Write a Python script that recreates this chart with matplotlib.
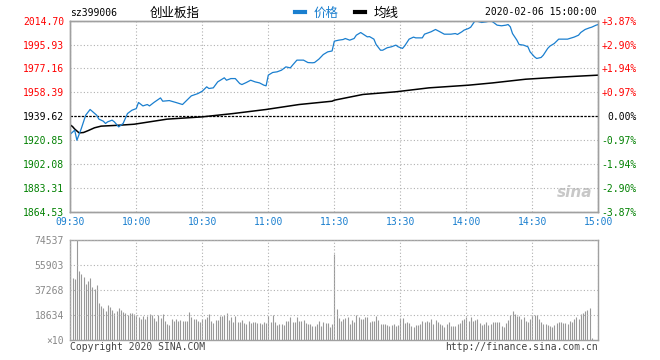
import matplotlib.pyplot as plt
import numpy as np
from matplotlib.lines import Line2D

# price (blue) - minute index from 09:30, 0..240
price_min = [0, 2, 3, 5, 7, 9, 12, 13, 15, 16, 17, 19, 20, 22, 24, 26, 28, 30, 31, 33,
             35, 36, 38, 41, 42, 45, 48, 51, 53, 55, 58, 60, 62, 63, 65, 67, 70, 71, 73, 75,
             77, 78, 80, 82, 84, 86, 88, 89, 90, 92, 94, 96, 98, 100, 101, 103, 106, 108, 110, 111,
             113, 115, 117, 119, 120, 122, 124, 125, 127, 129, 130, 132, 133, 135, 136, 138, 139, 141, 142, 144,
             146, 148, 149, 151, 152, 154, 156, 157, 160, 161, 164, 166, 168, 170, 173, 175, 176, 178, 179, 181,
             182, 184, 186, 187, 189, 191, 192, 194, 196, 198, 199, 200, 201, 203, 204, 206, 208, 209, 211, 212,
             214, 215, 217, 218, 220, 222, 224, 226, 229, 231, 232, 234, 236, 237, 239, 240]
price = [1925.5, 1928.6, 1920.7, 1929.9, 1940.4, 1944.9, 1940.4, 1937.3, 1935.7, 1933.9,
         1935.2, 1936.5, 1935.2, 1931.2, 1933.9, 1941.7, 1944.3, 1945.6, 1950.4, 1947.7,
         1948.8, 1947.7, 1950.4, 1954.0, 1951.4, 1951.9, 1950.4, 1948.8, 1952.2, 1955.6,
         1957.4, 1959.3, 1962.7, 1961.4, 1961.9, 1966.6, 1969.8, 1967.9, 1969.2, 1969.2,
         1965.3, 1964.5, 1966.1, 1967.9, 1966.6, 1965.8, 1964.0, 1963.5, 1971.9, 1974.0,
         1974.5, 1975.8, 1978.4, 1977.6, 1979.7, 1983.7, 1983.7, 1981.8, 1981.6, 1981.8,
         1984.5, 1988.1, 1990.2, 1990.9, 1998.6, 1999.4, 1999.9, 2000.7, 1999.4, 2000.7,
         2003.3, 2005.4, 2004.3, 2002.0, 2002.2, 2000.2, 1996.0, 1991.5, 1991.5, 1993.4,
         1994.2, 1995.5, 1994.2, 1992.9, 1994.9, 2000.2, 2001.8, 2001.2, 2001.2, 2004.1,
         2006.0, 2007.8, 2006.0, 2004.1, 2004.1, 2004.6, 2003.9, 2006.0, 2007.3, 2008.6,
         2009.6, 2014.7, 2013.8, 2013.3, 2013.8, 2014.6, 2013.8, 2011.2, 2010.7, 2011.2,
         2011.7, 2009.9, 2004.6, 1999.4, 1996.0, 1995.5, 1994.2, 1990.2, 1986.3, 1985.0,
         1985.8, 1987.6, 1992.9, 1994.7, 1996.8, 2000.2, 2000.2, 2000.2, 2001.8, 2003.3,
         2005.4, 2007.8, 2009.1, 2009.6, 2011.2, 2011.7]

# average line (black)
avg_min = [0, 1, 2, 4, 6, 8, 11, 14, 22, 29, 44, 60, 74, 89, 104, 119, 120, 133, 148, 163,
           181, 192, 207, 222, 240]
avg = [1932.7, 1931.5, 1929.5, 1926.5, 1926.8, 1928.2, 1930.5, 1931.8, 1932.5, 1933.3,
       1937.3, 1939.1, 1941.7, 1944.9, 1948.8, 1951.4, 1952.2, 1956.7, 1958.8, 1961.9,
       1964.0, 1965.8, 1968.7, 1970.3, 1971.9]

# volume per minute (x10)
vols = [73000, 46000, 45500, 74537, 51400, 49700, 47200, 42200, 44200, 46200,
        39700, 37800, 41000, 27800, 25300, 24100, 21900, 26100, 24800, 22400,
        20400, 21600, 23900, 22100, 20600, 19900, 18900, 20400, 19900, 19400,
        18400, 17400, 15400, 17900, 15400, 17900, 19400, 18400, 16400, 14200,
        18400, 16200, 19400, 14200, 11900, 11200, 15400, 14400, 15700, 14400,
        14900, 14400, 14400, 14400, 20900, 16900, 15900, 15700, 14200, 13200,
        15900, 15900, 16900, 19400, 14200, 12400, 14900, 14900, 17900, 17900,
        18600, 20400, 14900, 16900, 13700, 17900, 13700, 13700, 14900, 12900,
        11900, 14200, 12400, 13200, 13200, 12400, 12400, 11700, 13700, 12400,
        18000, 13700, 18400, 13700, 11200, 11900, 11700, 11200, 14200, 14200,
        16900, 13700, 13700, 16900, 14200, 14200, 14900, 12400, 11900, 11900,
        10400, 10400, 11900, 14200, 10400, 13400, 12900, 12900, 9400, 11900,
        64100, 23100, 16200, 14400, 15400, 16200, 16900, 11900, 14900, 13700,
        18400, 17400, 15700, 15700, 16900, 16900, 13700, 14200, 14200, 17900,
        14900, 11900, 11900, 11900, 11200, 10400, 11200, 11900, 10400, 11200,
        16400, 16400, 12900, 13700, 12400, 10700, 9400, 11200, 11200, 11900,
        14200, 13700, 14200, 13700, 15400, 11900, 14900, 13700, 11900, 11200,
        9400, 11900, 13700, 10400, 10400, 10400, 11900, 12900, 14900, 15900,
        16900, 14200, 17400, 14200, 14900, 15900, 12400, 11200, 11900, 13700,
        11200, 11900, 13700, 13700, 13700, 13700, 10400, 9400, 12400, 14900, 18400,
        21900, 19400, 17600, 17600, 15900, 16900, 14200, 13700, 15900, 18400,
        18400, 18400, 15400, 13700, 11900, 11900, 11200, 10400, 9400, 11200,
        12400, 13700, 13700, 12900, 12900, 11900, 14200, 13700, 15400, 16900,
        15900, 19400, 19900, 21900, 22400, 23600, 1500, 0, 0, 0]

prev_close = 1939.62
y_ticks = [1864.53, 1883.31, 1902.08, 1920.85, 1939.62, 1958.39, 1977.16, 1995.93, 2014.70]
pct_labels = ['-3.87%', '-2.90%', '-1.94%', '-0.97%', '0.00%', '+0.97%', '+1.94%', '+2.90%', '+3.87%']
time_ticks = [0, 30, 60, 90, 120, 150, 180, 210, 240]
time_labels = ['09:30', '10:00', '10:30', '11:00', '11:30', '13:30', '14:00', '14:30', '15:00']
vol_ticks = [0, 18634, 37268, 55903, 74537]
vol_labels = ['\u00d710', '18634', '37268', '55903', '74537']

mono = 'DejaVu Sans Mono'
cjk = ['Noto Sans CJK SC', 'DejaVu Sans']
blue = '#1a7fcf'
red = '#ff0000'
green = '#008000'
frame = '#a0a0a0'
gridc = '#b0b0b0'

fig = plt.figure(figsize=(6.6, 3.6), dpi=100)
W, H = 660, 360

def box(l, t, r, b):
    return [l / W, 1 - b / H, (r - l) / W, (b - t) / H]

ax = fig.add_axes(box(70.3, 20.7, 598.3, 211.7))
axv = fig.add_axes(box(70.3, 240.3, 598.3, 340))

ax.plot(avg_min, avg, color='black', lw=1.1, zorder=3)
ax.plot(price_min, price, color=blue, lw=0.9, zorder=4)
ax.axhline(prev_close, color='black', lw=0.9, ls=(0, (2, 1)), zorder=2)

ax.set_xlim(0, 240)
ax.set_ylim(y_ticks[0], y_ticks[-1])
ax.set_yticks(y_ticks)
ax.set_yticklabels(['%.2f' % v for v in y_ticks], fontfamily=mono, fontsize=7)
for lab, v in zip(ax.get_yticklabels(), y_ticks):
    lab.set_color(red if v > prev_close + 0.01 else (green if v < prev_close - 0.01 else 'black'))
ax.set_xticks(time_ticks)
ax.set_xticklabels(time_labels, fontfamily=mono, fontsize=7, color=blue)
ax.tick_params(length=0, pad=4.5)
ax.tick_params(axis='x', pad=3.5)
ax.grid(True, color=gridc, lw=0.8, ls=(0, (1, 2)))
ax.get_ygridlines()[4].set_visible(False)

ax2 = ax.twinx()
ax2.set_ylim(ax.get_ylim())
ax2.set_yticks(y_ticks)
ax2.set_yticklabels(pct_labels, fontfamily=mono, fontsize=7)
for lab, s in zip(ax2.get_yticklabels(), pct_labels):
    lab.set_color(red if s.startswith('+') else (green if s.startswith('-') else 'black'))
    lab.set_horizontalalignment('right')
ax2.tick_params(length=0, pad=27.8)

for a in (ax, ax2, axv):
    for sp in a.spines.values():
        sp.set_color(frame)
        sp.set_linewidth(1.0)

# sina watermark
ax.text(0.955, 0.1, 'sina', transform=ax.transAxes, ha='center', va='center',
        fontsize=11, fontweight='bold', style='italic', color='#c8c8c8', zorder=1)

# volume
xv = np.arange(len(vols))
axv.vlines(xv, 0, vols, color='#999999', lw=0.8, zorder=2)
axv.set_xlim(0, 240)
axv.set_ylim(0, vol_ticks[-1])
axv.set_yticks(vol_ticks)
axv.set_yticklabels(vol_labels, fontfamily=mono, fontsize=7, color='#888888')
axv.set_xticks(time_ticks)
axv.set_xticklabels([])
axv.tick_params(length=0, pad=4.5)
axv.grid(True, color=gridc, lw=0.8, ls=(0, (1, 2)), zorder=3)
axv.set_axisbelow(False)

# header
def fy(py):
    return 1 - py / H

fig.text(70 / W, fy(13), 'sz399006', fontfamily=mono, fontsize=7, color='black', va='center')
fig.text(150 / W, fy(13), '创业板指', family=cjk, fontsize=9, color='black', va='center')
fig.add_artist(Line2D([295 / W, 305 / W], [fy(12), fy(12)], color=blue, lw=3))
fig.text(314 / W, fy(13), '价格', family=cjk, fontsize=9, color=blue, va='center')
fig.add_artist(Line2D([355 / W, 365 / W], [fy(12), fy(12)], color='black', lw=3))
fig.text(374 / W, fy(13), '均线', family=cjk, fontsize=9, color='black', va='center')
fig.text(597 / W, fy(12), '2020-02-06 15:00:00', fontfamily=mono, fontsize=7,
         color='black', va='center', ha='right')

fig.text(70 / W, fy(347), 'Copyright 2020 SINA.COM', fontfamily=mono, fontsize=7,
         color='#444444', va='center')
fig.text(598 / W, fy(347), 'http://finance.sina.com.cn', fontfamily=mono, fontsize=7,
         color='#444444', va='center', ha='right')

fig.savefig('out.png', dpi=100)
